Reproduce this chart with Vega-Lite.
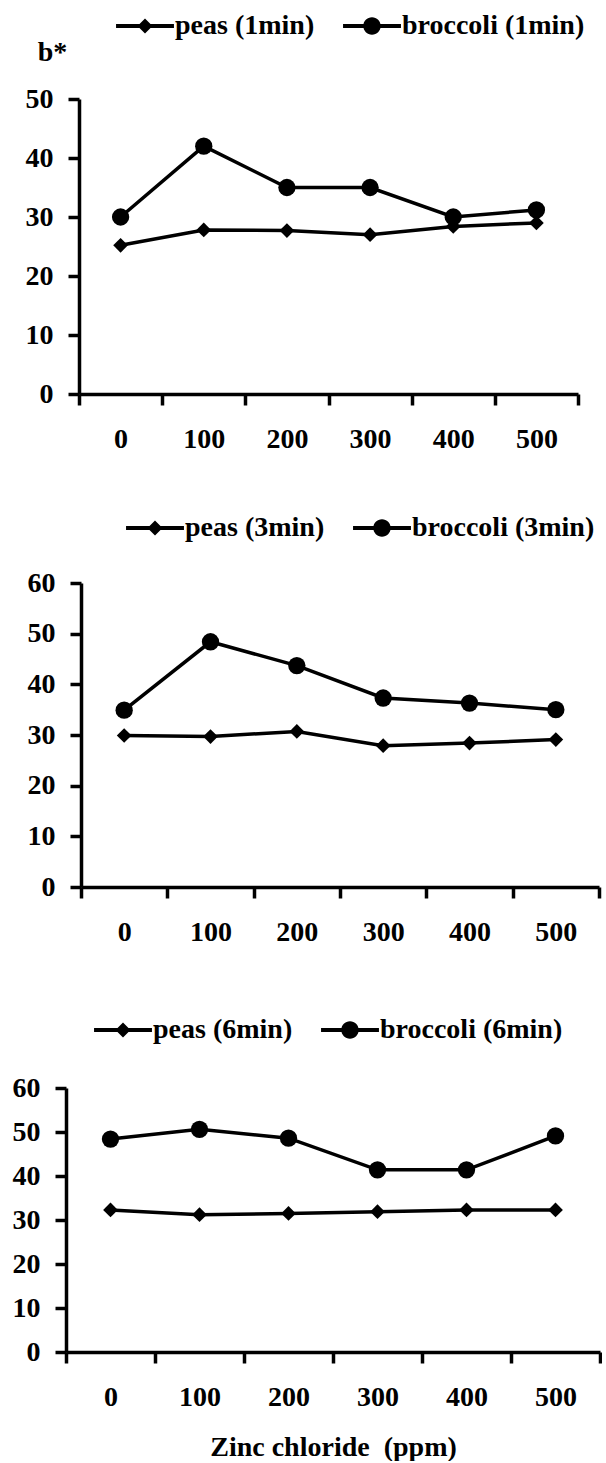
{
  "$schema": "https://vega.github.io/schema/vega-lite/v6.json",
  "padding": {"left": 0, "top": 10, "right": 0, "bottom": 0},
  "background": "white",
  "config": {
    "view": {"stroke": null},
    "font": "Liberation Serif",
    "axis": {"grid": false, "domainColor": "black", "tickColor": "black", "domainWidth": 3.5, "tickWidth": 3.5, "tickSize": 11,
             "labelFont": "Liberation Serif", "labelFontSize": 28, "labelFontWeight": "bold", "labelColor": "black",
             "titleFont": "Liberation Serif", "titleFontSize": 28, "titleFontWeight": "bold", "titleColor": "black"},
    "legend": {"labelFont": "Liberation Serif", "labelFontSize": 28, "labelFontWeight": "bold", "labelColor": "black", "labelLimit": 400,
               "symbolOpacity": 1, "symbolFillColor": "black", "symbolSize": 900,
               "labelOffset": 14, "columnPadding": 25, "direction": "horizontal", "orient": "none", "title": null}
  },
  "spacing": 59,
  "resolve": {"scale": {"x": "independent", "y": "independent", "shape": "independent"}, "legend": {"shape": "independent"}},
  "vconcat": [
    {
      "spacing": 0,
      "resolve": {"scale": {"x": "independent", "y": "independent", "shape": "independent"}, "legend": {"shape": "independent"}},
      "hconcat": [
        {"width": 25, "height": 10, "data": {"values": []}, "mark": {"type": "point", "opacity": 0}},
        {
          "width": 499, "height": 295,
          "data": {"values": [
            {"zinc": 0, "series": "peas (1min)", "b": 25.2},
            {"zinc": 100, "series": "peas (1min)", "b": 27.8},
            {"zinc": 200, "series": "peas (1min)", "b": 27.7},
            {"zinc": 300, "series": "peas (1min)", "b": 27.0},
            {"zinc": 400, "series": "peas (1min)", "b": 28.4},
            {"zinc": 500, "series": "peas (1min)", "b": 29.0},
            {"zinc": 0, "series": "broccoli (1min)", "b": 30.0},
            {"zinc": 100, "series": "broccoli (1min)", "b": 42.0},
            {"zinc": 200, "series": "broccoli (1min)", "b": 35.0},
            {"zinc": 300, "series": "broccoli (1min)", "b": 35.0},
            {"zinc": 400, "series": "broccoli (1min)", "b": 30.0},
            {"zinc": 500, "series": "broccoli (1min)", "b": 31.2}
          ]},
          "encoding": {
            "x": {"field": "zinc", "type": "ordinal", "scale": {"type": "band", "paddingInner": 0, "paddingOuter": 0},
                  "axis": {"title": null, "labelAngle": 0, "tickBand": "extent", "labelPadding": 20}},
            "y": {"field": "b", "type": "quantitative", "scale": {"domain": [0, 50], "nice": false},
                  "axis": {"values": [0, 10, 20, 30, 40, 50], "labelPadding": 15, "title": "b*", "titleAngle": 0, "titleX": -27, "titleY": -39, "titleAlign": "center", "titleBaseline": "alphabetic"}}
          },
          "resolve": {"scale": {"shape": "independent"}},
          "layer": [
            {"mark": {"type": "line", "color": "black", "strokeWidth": 3.5}, "encoding": {"detail": {"field": "series"}}},
            {"mark": {"type": "point", "filled": true, "color": "black", "opacity": 1, "size": 300},
             "encoding": {"shape": {"field": "series", "type": "nominal", "scale": {"domain": ["peas (1min)", "broccoli (1min)"], "range": ["M0,-0.85L0.85,0L0,0.85L-0.85,0Z", "circle"]}, "legend": null}}},
            {"mark": {"type": "point", "filled": true, "color": "black", "opacity": 0},
             "encoding": {"shape": {"field": "series", "type": "nominal",
               "scale": {"domain": ["peas (1min)", "broccoli (1min)"], "range": ["M-1.93,-0.13H1.93V0.13H-1.93ZM0,-0.5L0.5,0L0,0.5L-0.5,0Z", "M-1.93,-0.13H1.93V0.13H-1.93ZM0.58,0A0.58,0.58,0,1,1,-0.58,0A0.58,0.58,0,1,1,0.58,0Z"]},
               "legend": {"legendX": 50, "legendY": -89}}}}
          ]
        }
      ]
    },
    {
      "spacing": 0,
      "resolve": {"scale": {"x": "independent", "y": "independent", "shape": "independent"}, "legend": {"shape": "independent"}},
      "hconcat": [
        {"width": 27, "height": 372, "data": {"values": []}, "mark": {"type": "point", "opacity": 0}},
        {
          "width": 518, "height": 304,
          "data": {"values": [
            {"zinc": 0, "series": "peas (3min)", "b": 29.9},
            {"zinc": 100, "series": "peas (3min)", "b": 29.7},
            {"zinc": 200, "series": "peas (3min)", "b": 30.7},
            {"zinc": 300, "series": "peas (3min)", "b": 27.9},
            {"zinc": 400, "series": "peas (3min)", "b": 28.4},
            {"zinc": 500, "series": "peas (3min)", "b": 29.1},
            {"zinc": 0, "series": "broccoli (3min)", "b": 34.9},
            {"zinc": 100, "series": "broccoli (3min)", "b": 48.4},
            {"zinc": 200, "series": "broccoli (3min)", "b": 43.7},
            {"zinc": 300, "series": "broccoli (3min)", "b": 37.3},
            {"zinc": 400, "series": "broccoli (3min)", "b": 36.3},
            {"zinc": 500, "series": "broccoli (3min)", "b": 35.0}
          ]},
          "encoding": {
            "x": {"field": "zinc", "type": "ordinal", "scale": {"type": "band", "paddingInner": 0, "paddingOuter": 0},
                  "axis": {"title": null, "labelAngle": 0, "tickBand": "extent", "labelPadding": 20}},
            "y": {"field": "b", "type": "quantitative", "scale": {"domain": [0, 60], "nice": false},
                  "axis": {"values": [0, 10, 20, 30, 40, 50, 60], "labelPadding": 15, "title": null}}
          },
          "resolve": {"scale": {"shape": "independent"}},
          "layer": [
            {"mark": {"type": "line", "color": "black", "strokeWidth": 3.5}, "encoding": {"detail": {"field": "series"}}},
            {"mark": {"type": "point", "filled": true, "color": "black", "opacity": 1, "size": 300},
             "encoding": {"shape": {"field": "series", "type": "nominal", "scale": {"domain": ["peas (3min)", "broccoli (3min)"], "range": ["M0,-0.85L0.85,0L0,0.85L-0.85,0Z", "circle"]}, "legend": null}}},
            {"mark": {"type": "point", "filled": true, "color": "black", "opacity": 0},
             "encoding": {"shape": {"field": "series", "type": "nominal",
               "scale": {"domain": ["peas (3min)", "broccoli (3min)"], "range": ["M-1.93,-0.13H1.93V0.13H-1.93ZM0,-0.5L0.5,0L0,0.5L-0.5,0Z", "M-1.93,-0.13H1.93V0.13H-1.93ZM0.58,0A0.58,0.58,0,1,1,-0.58,0A0.58,0.58,0,1,1,0.58,0Z"]},
               "legend": {"legendX": 58, "legendY": -71}}}}
          ]
        }
      ]
    },
    {
      "spacing": 0,
      "resolve": {"scale": {"x": "independent", "y": "independent", "shape": "independent"}, "legend": {"shape": "independent"}},
      "hconcat": [
        {"width": 12, "height": 10, "data": {"values": []}, "mark": {"type": "point", "opacity": 0}},
        {
          "width": 534, "height": 264,
          "data": {"values": [
            {"zinc": 0, "series": "peas (6min)", "b": 32.3},
            {"zinc": 100, "series": "peas (6min)", "b": 31.2},
            {"zinc": 200, "series": "peas (6min)", "b": 31.5},
            {"zinc": 300, "series": "peas (6min)", "b": 31.9},
            {"zinc": 400, "series": "peas (6min)", "b": 32.3},
            {"zinc": 500, "series": "peas (6min)", "b": 32.3},
            {"zinc": 0, "series": "broccoli (6min)", "b": 48.4},
            {"zinc": 100, "series": "broccoli (6min)", "b": 50.6},
            {"zinc": 200, "series": "broccoli (6min)", "b": 48.6},
            {"zinc": 300, "series": "broccoli (6min)", "b": 41.4},
            {"zinc": 400, "series": "broccoli (6min)", "b": 41.4},
            {"zinc": 500, "series": "broccoli (6min)", "b": 49.1}
          ]},
          "encoding": {
            "x": {"field": "zinc", "type": "ordinal", "scale": {"type": "band", "paddingInner": 0, "paddingOuter": 0},
                  "axis": {"title": "Zinc chloride\u00a0 (ppm)", "labelAngle": 0, "tickBand": "extent", "labelPadding": 20, "titleY": 103, "titleBaseline": "alphabetic"}},
            "y": {"field": "b", "type": "quantitative", "scale": {"domain": [0, 60], "nice": false},
                  "axis": {"values": [0, 10, 20, 30, 40, 50, 60], "labelPadding": 15, "title": null}}
          },
          "resolve": {"scale": {"shape": "independent"}},
          "layer": [
            {"mark": {"type": "line", "color": "black", "strokeWidth": 3.5}, "encoding": {"detail": {"field": "series"}}},
            {"mark": {"type": "point", "filled": true, "color": "black", "opacity": 1, "size": 300},
             "encoding": {"shape": {"field": "series", "type": "nominal", "scale": {"domain": ["peas (6min)", "broccoli (6min)"], "range": ["M0,-0.85L0.85,0L0,0.85L-0.85,0Z", "circle"]}, "legend": null}}},
            {"mark": {"type": "point", "filled": true, "color": "black", "opacity": 0},
             "encoding": {"shape": {"field": "series", "type": "nominal",
               "scale": {"domain": ["peas (6min)", "broccoli (6min)"], "range": ["M-1.93,-0.13H1.93V0.13H-1.93ZM0,-0.5L0.5,0L0,0.5L-0.5,0Z", "M-1.93,-0.13H1.93V0.13H-1.93ZM0.58,0A0.58,0.58,0,1,1,-0.58,0A0.58,0.58,0,1,1,0.58,0Z"]},
               "legend": {"legendX": 41, "legendY": -74}}}}
          ]
        }
      ]
    }
  ]
}
